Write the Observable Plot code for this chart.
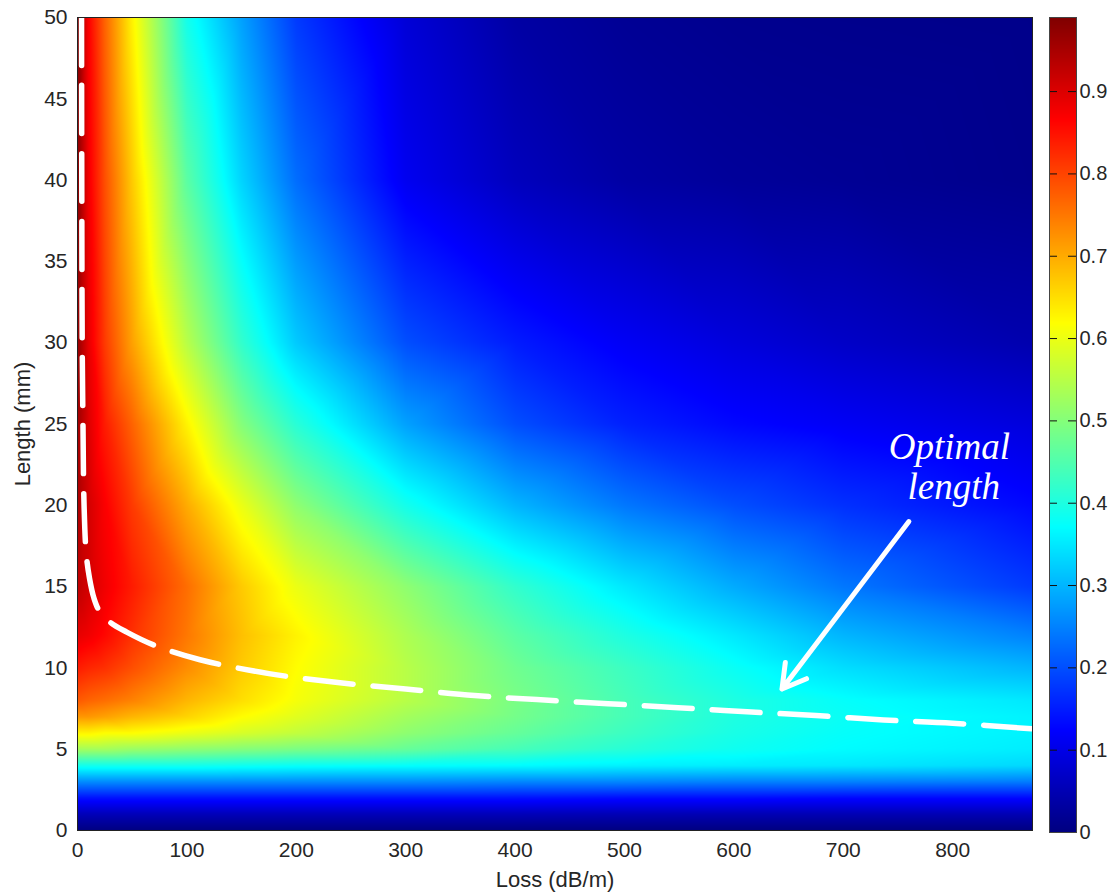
<!DOCTYPE html>
<html>
<head>
<meta charset="utf-8">
<script src="https://cdn.jsdelivr.net/npm/d3@7"></script>
<script src="https://cdn.jsdelivr.net/npm/@observablehq/plot@0.6"></script>
<style>
  body { margin: 0; background: #fff; }
  #chart { position: relative; width: 1115px; height: 892px; background: #fff; }
  #main { position: absolute; left: 0; top: 0; }
  #cbar { position: absolute; left: 1040px; top: 0; }
</style>
</head>
<body>
<div id="chart"><div id="main"></div><div id="cbar"></div></div>
<script>
// ---- Data ----
// Loss (dB/m) columns of the sampled grid
const lossCols = [0, 10, 25, 50, 100, 150, 200, 300, 400, 500, 600, 700, 873];
// Length (mm) rows of the sampled grid
const lengthRows = [0, 1, 2, 3, 4, 5, 6, 7, 8, 10, 12, 15, 20, 25, 30, 40, 50];
// Colour-coded value at each (length row, loss column), estimated from the jet colours
const efficiency = [
  /* L=0  */ [0, 0, 0, 0, 0, 0, 0, 0, 0, 0, 0, 0, 0],
  /* L=1  */ [0.055, 0.055, 0.055, 0.055, 0.055, 0.055, 0.055, 0.055, 0.055, 0.052, 0.05, 0.05, 0.05],
  /* L=2  */ [0.14, 0.14, 0.14, 0.14, 0.14, 0.14, 0.14, 0.14, 0.14, 0.135, 0.135, 0.13, 0.13],
  /* L=3  */ [0.26, 0.26, 0.26, 0.26, 0.26, 0.26, 0.26, 0.26, 0.255, 0.255, 0.25, 0.25, 0.245],
  /* L=4  */ [0.39, 0.39, 0.39, 0.39, 0.39, 0.385, 0.38, 0.375, 0.37, 0.36, 0.355, 0.35, 0.335],
  /* L=5  */ [0.53, 0.53, 0.53, 0.52, 0.51, 0.50, 0.49, 0.47, 0.44, 0.41, 0.385, 0.37, 0.355],
  /* L=6  */ [0.63, 0.63, 0.62, 0.62, 0.60, 0.58, 0.56, 0.51, 0.47, 0.43, 0.395, 0.375, 0.36],
  /* L=7  */ [0.72, 0.72, 0.71, 0.69, 0.66, 0.62, 0.59, 0.53, 0.485, 0.44, 0.40, 0.38, 0.36],
  /* L=8  */ [0.78, 0.77, 0.76, 0.74, 0.69, 0.65, 0.61, 0.55, 0.49, 0.44, 0.40, 0.375, 0.35],
  /* L=10 */ [0.84, 0.83, 0.82, 0.79, 0.73, 0.67, 0.62, 0.55, 0.48, 0.43, 0.38, 0.34, 0.30],
  /* L=12 */ [0.89, 0.88, 0.86, 0.82, 0.75, 0.68, 0.63, 0.54, 0.46, 0.40, 0.35, 0.30, 0.25],
  /* L=15 */ [0.93, 0.91, 0.88, 0.84, 0.76, 0.67, 0.60, 0.51, 0.42, 0.35, 0.29, 0.24, 0.18],
  /* L=20 */ [0.95, 0.91, 0.87, 0.81, 0.70, 0.60, 0.51, 0.39, 0.30, 0.24, 0.20, 0.17, 0.13],
  /* L=25 */ [0.96, 0.90, 0.84, 0.77, 0.63, 0.50, 0.41, 0.28, 0.20, 0.155, 0.13, 0.115, 0.09],
  /* L=30 */ [0.97, 0.89, 0.81, 0.71, 0.55, 0.42, 0.32, 0.20, 0.15, 0.115, 0.09, 0.07, 0.045],
  /* L=40 */ [0.98, 0.88, 0.79, 0.67, 0.46, 0.33, 0.23, 0.11, 0.06, 0.035, 0.025, 0.02, 0.012],
  /* L=50 */ [0.99, 0.87, 0.77, 0.63, 0.39, 0.28, 0.18, 0.085, 0.035, 0.02, 0.014, 0.012, 0.01]
];
// Optimal-length (dashed white) curve
const optLoss   = [3.7, 3.9, 4.3, 5, 6, 8, 11, 15, 20, 30, 45, 70, 112, 175, 238, 300, 363, 420, 485, 549, 612, 675, 737, 800, 873];
const optLength = [50, 40, 30, 25, 20, 17, 15.5, 14.3, 13.5, 12.8, 12.2, 11.4, 10.5, 9.65, 9.1, 8.7, 8.3, 8.05, 7.8, 7.55, 7.3, 7.07, 6.8, 6.6, 6.25];
// Ticks
const xTicks = [0, 100, 200, 300, 400, 500, 600, 700, 800];
const yTicks = [0, 5, 10, 15, 20, 25, 30, 35, 40, 45, 50];
const cTicks = [0, 0.1, 0.2, 0.3, 0.4, 0.5, 0.6, 0.7, 0.8, 0.9];
const cMax = 0.99;
// Annotation
const annotLines = ["Optimal", "length"];
const annotLoss = [797, 801];
const annotLength = [23.6, 21.1];
const arrowTail = {loss: 760, length: 19.0};
const arrowTip = {loss: 644, length: 8.7};

// ---- Build tables ----
const cells = [];
lengthRows.forEach((L, i) => lossCols.forEach((a, j) => cells.push({loss: a, length: L, value: efficiency[i][j]})));
const optCurve = optLoss.map((a, i) => ({loss: a, length: optLength[i]}));
const annot = annotLines.map((t, i) => ({text: t, loss: annotLoss[i], length: annotLength[i]}));

const jetStops = [0, 0.125, 0.375, 0.625, 0.875, 1];
const jetColors = ["#000080", "#0000ff", "#00ffff", "#ffff00", "#ff0000", "#800000"];
const colorScale = {type: "linear", domain: jetStops.map(t => t * cMax), range: jetColors, interpolate: "rgb", clamp: true};

const sans = "'Liberation Sans', Arial, Helvetica, sans-serif";
const tickColor = "#262626";

const main = Plot.plot({
  width: 1040, height: 892,
  marginLeft: 77, marginRight: 8, marginTop: 17, marginBottom: 62,
  style: {fontFamily: sans, fontSize: "21px", background: "#fff"},
  x: {domain: [0, 873]},
  y: {domain: [0, 50]},
  color: colorScale,
  marks: [
    Plot.raster(cells, {x: "loss", y: "length", fill: "value", interpolate: "barycentric"}),
    Plot.line(optCurve, {x: "loss", y: "length", stroke: "white", strokeWidth: 5.5, strokeDasharray: "48,20", curve: "catmull-rom"}),
    Plot.arrow([0], {x1: () => arrowTail.loss, y1: () => arrowTail.length, x2: () => arrowTip.loss, y2: () => arrowTip.length, stroke: "white", strokeWidth: 5, headLength: 8, headAngle: 60}),
    Plot.text(annot, {x: "loss", y: "length", text: "text", fill: "white", fontSize: 37, fontStyle: "italic", fontFamily: "'Liberation Serif', 'Times New Roman', serif", textAnchor: "middle", lineAnchor: "middle"}),
    Plot.frame({stroke: "#222", strokeWidth: 1}),
    Plot.axisX({ticks: xTicks, tickSize: 0, tickPadding: 12, label: null, fontSize: 21, fill: tickColor}),
    Plot.axisY({ticks: yTicks, tickSize: 0, tickPadding: 10, label: null, fontSize: 21, fill: tickColor}),
    Plot.text(["Loss (dB/m)"], {frameAnchor: "bottom", dy: 49, fontSize: 22, fill: tickColor, textAnchor: "middle", lineAnchor: "middle"}),
    Plot.text(["Length (mm)"], {frameAnchor: "left", dx: -55, rotate: -90, fontSize: 22, fill: tickColor, textAnchor: "middle", lineAnchor: "middle"})
  ]
});
document.getElementById("main").appendChild(main);

const cbar = Plot.plot({
  width: 75, height: 892,
  marginLeft: 9, marginRight: 39, marginTop: 17, marginBottom: 60,
  style: {fontFamily: sans, fontSize: "20px", background: "transparent", overflow: "visible"},
  x: {domain: [0, 1], axis: null},
  y: {domain: [0, cMax], axis: null},
  color: colorScale,
  marks: [
    Plot.raster({fill: (x, y) => y, x1: 0, x2: 1, y1: 0, y2: cMax}),
    Plot.tickY(cTicks, {y: d => d, stroke: "#111", insetRight: 19}),
    Plot.tickY(cTicks, {y: d => d, stroke: "#111", insetLeft: 19}),
    Plot.frame({stroke: "#444", strokeWidth: 1}),
    Plot.axisY({ticks: cTicks, anchor: "right", tickSize: 0, tickPadding: 3, label: null, fontSize: 20, fill: tickColor,
      tickFormat: d => d === 0 ? "0" : d.toFixed(1)})
  ]
});
document.getElementById("cbar").appendChild(cbar);
</script>
</body>
</html>
